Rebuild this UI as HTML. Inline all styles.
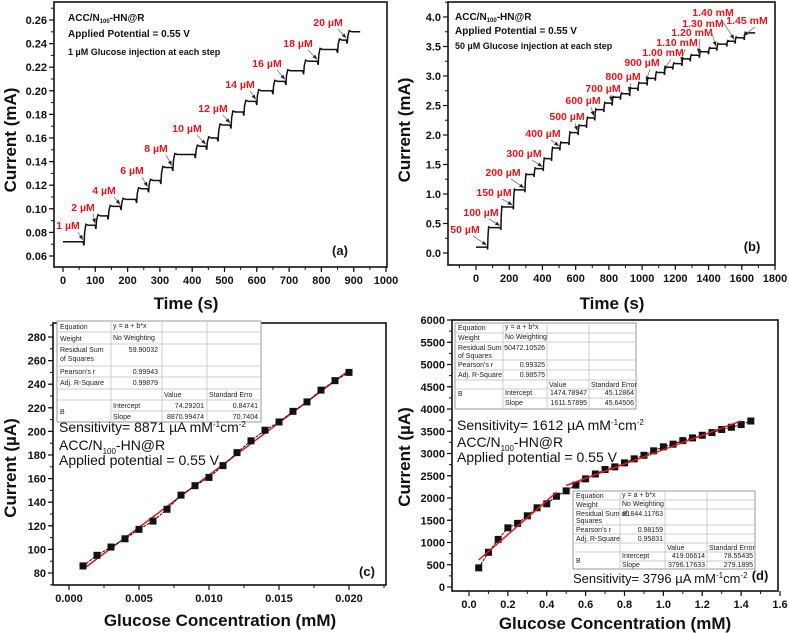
<!DOCTYPE html>
<html><head><meta charset="utf-8"><style>
html,body{margin:0;padding:0;background:#fff;}
svg{display:block;font-family:"Liberation Sans",Arial,sans-serif;}
.tk{font-size:11px;font-weight:bold;fill:#111;}
.at{font-size:17px;font-weight:bold;fill:#111;}
.lab{font-size:10.5px;font-weight:bold;fill:#e8141b;}
.tb{font-size:7px;fill:#222;}
.big{font-size:14px;fill:#111;}
.hd{font-size:10px;font-weight:bold;fill:#111;}
</style></head><body>
<svg id="fig" width="789" height="633" viewBox="0 0 789 633" xmlns="http://www.w3.org/2000/svg"></svg>
<script>
// ---------- DATA ----------
const aBase = 0.072;
const aTimes = [65,102,140,180,228,265,303,340,410,445,480,520,560,600,650,690,745,790,850,880];
const aLevels = [0.086,0.094,0.102,0.108,0.117,0.124,0.135,0.146,0.153,0.160,0.171,0.182,0.191,0.200,0.208,0.217,0.225,0.235,0.243,0.250];
const aEnd = 920;
const aXTicks = [0,100,200,300,400,500,600,700,800,900,1000];
const aYTicks = [0.06,0.08,0.10,0.12,0.14,0.16,0.18,0.20,0.22,0.24,0.26];
const aLabelText = ["1 µM","2 µM","4 µM","6 µM","8 µM","10 µM","12 µM","14 µM","16 µM","18 µM","20 µM"];
const aLabelStep = [1,2,4,6,8,10,12,14,16,18,20];
const bBase = 0.10;
const bTimes = [70,150,225,295,350,405,455,505,560,615,665,715,770,820,870,925,975,1030,1080,1135,1185,1240,1290,1345,1400,1450,1510,1560,1615];
const bLevels = [0.43,0.78,1.07,1.33,1.43,1.60,1.78,1.87,2.04,2.16,2.29,2.43,2.54,2.64,2.70,2.79,2.88,2.96,3.06,3.15,3.21,3.29,3.35,3.41,3.47,3.54,3.59,3.65,3.73];
const bEnd = 1680;
const bXTicks = [0,200,400,600,800,1000,1200,1400,1600,1800];
const bYTicks = [0.0,0.5,1.0,1.5,2.0,2.5,3.0,3.5,4.0];
const bLabelText = ["50 µM","100 µM","150 µM","200 µM","300 µM","400 µM","500 µM","600 µM","700 µM","800 µM","900 µM","1.00 mM","1.10 mM","1.20 mM","1.30 mM","1.40 mM","1.45 mM"];
const bLabelStep = [1,2,3,4,6,8,10,12,14,16,18,20,22,24,26,28,29];
const cX = [0.001,0.002,0.003,0.004,0.005,0.006,0.007,0.008,0.009,0.010,0.011,0.012,0.013,0.014,0.015,0.016,0.017,0.018,0.019,0.020];
const cY = [86,95,102,109,117,124,134,146,154,161,171,182,192,201,208,217,225,235,243,250];
const cFit = [74.29201, 8870.99474];
const cXTicks = [0.000,0.005,0.010,0.015,0.020];
const cYTicks = [80,100,120,140,160,180,200,220,240,260,280];
const dX = [0.05,0.10,0.15,0.20,0.25,0.30,0.35,0.40,0.45,0.50,0.55,0.60,0.65,0.70,0.75,0.80,0.85,0.90,0.95,1.00,1.05,1.10,1.15,1.20,1.25,1.30,1.35,1.40,1.45];
const dY = [430,780,1070,1330,1430,1600,1780,1870,2040,2160,2290,2430,2540,2640,2700,2790,2880,2960,3060,3150,3210,3290,3350,3410,3470,3540,3590,3650,3730];
const dFitLow = [419.06614, 3796.17633];
const dFitHigh = [1474.78947, 1611.57895];
const dXTicks = [0.0,0.2,0.4,0.6,0.8,1.0,1.2,1.4,1.6];
const dYTicks = [0,500,1000,1500,2000,2500,3000,3500,4000,4500,5000,5500,6000];

// ---------- HELPERS ----------
const NS="http://www.w3.org/2000/svg";
const svg=document.getElementById('fig');
function mk(tag,attrs,parent){const e=document.createElementNS(NS,tag);for(const k in attrs)e.setAttribute(k,attrs[k]);(parent||svg).appendChild(e);return e;}
function txt(s,x,y,cls,parent,anchor){const t=mk('text',{x:x,y:y,class:cls,'text-anchor':anchor||'start'},parent);t.textContent=s;return t;}
function scale(d0,d1,r0,r1){return v=>r0+(v-d0)/(d1-d0)*(r1-r0);}

function frame(name,L,T,R,B,xs,ys,xt,yt,fmtX,fmtY,xMinor,yMinor){
  const g=mk('g',{});
  
  
  mk('rect',{x:L,y:T,width:R-L,height:B-T,fill:'none',stroke:'#111','stroke-width':1.6},g);
  xt.forEach(v=>{const x=xs(v);mk('line',{x1:x,x2:x,y1:B,y2:B+5,stroke:'#111','stroke-width':1.2},g);txt(fmtX(v),x,B+17,'tk',g,'middle');});
  xMinor.forEach(v=>{const x=xs(v);if(x>L&&x<R)mk('line',{x1:x,x2:x,y1:B,y2:B+3,stroke:'#111','stroke-width':1},g);});
  yt.forEach(v=>{const y=ys(v);mk('line',{x1:L-5,x2:L,y1:y,y2:y,stroke:'#111','stroke-width':1.2},g);txt(fmtY(v),L-7,y+4,'tk',g,'end');});
  yMinor.forEach(v=>{const y=ys(v);if(y>T&&y<B)mk('line',{x1:L-3,x2:L,y1:y,y2:y,stroke:'#111','stroke-width':1},g);});
  return g;
}
function stairs(times,levels,base,end,xs,ys,dip){
  let pts=[[0,base]];let prev=base;
  for(let i=0;i<times.length;i++){
    const t=times[i],L=levels[i];
    pts.push([t-3,prev]);pts.push([t,prev-dip]);pts.push([t+2,prev+(L-prev)*0.55]);
    pts.push([t+6,L+dip*0.3]);pts.push([t+14,L]);prev=L;
  }
  pts.push([end,prev]);
  return pts.map((p,i)=>(i?'L':'M')+xs(p[0]).toFixed(1)+','+ys(p[1]).toFixed(1)).join('');
}
function arrowTo(x1,y1,x2,y2,g){
  mk('line',{x1:x1,y1:y1,x2:x2,y2:y2,stroke:'#777','stroke-width':0.8},g);
  const a=Math.atan2(y2-y1,x2-x1),s=5;
  const p=[[x2,y2],[x2-s*Math.cos(a-0.4),y2-s*Math.sin(a-0.4)],[x2-s*Math.cos(a+0.4),y2-s*Math.sin(a+0.4)]];
  mk('polygon',{points:p.map(q=>q.join(',')).join(' '),fill:'#222'},g);
}
function range(a,b,s){const r=[];for(let v=a;v<=b+1e-9;v+=s)r.push(+v.toFixed(6));return r;}

// ---------- PANEL A ----------
{
 const L=54,T=2,R=387,B=267;
 const xs=scale(0,1000,63,386), ys=scale(0.26,0.06,20,256);
 frame('panel-a',L,T,R,B,xs,ys,aXTicks,aYTicks,v=>String(v),v=>v.toFixed(2),range(-0,1000,50),range(0.05,0.27,0.01));
 const p=mk('path',{d:stairs(aTimes,aLevels,aBase,aEnd,xs,ys,0.003),fill:'none',stroke:'#111','stroke-width':1.5});
 
 
 const pos=[[68,229],[83,211],[104,194],[132,174],[156,152],[187,132],[213,112],[240,88],[267,67],[298,47],[328,26]];
 const g=mk('g',{});
 
 
 aLabelStep.forEach((s,i)=>{
   const t=aTimes[s-1],lv=s>1?aLevels[s-2]:aBase;
   txt(aLabelText[i],pos[i][0],pos[i][1],'lab',g,'middle');
   arrowTo(pos[i][0]+10,pos[i][1]+3,xs(t)-1,ys(lv)-2,g);
 });
 const h=mk('g',{});
 
 
 const t1=txt('ACC/N',68,21,'hd',h);const ts=mk('tspan',{'font-size':'6','dy':'2'},t1);ts.textContent='100';const t2=mk('tspan',{dy:'-2'},t1);t2.textContent='-HN@R';
 txt('Applied Potential = 0.55 V',68,37,'hd',h);
 txt('1 µM Glucose injection at each step',68,55,'hd',h).style.fontSize='9px';
 txt('(a)',340,255,'hd',h,'middle').style.fontSize='13px';
 const yt=txt('Current (mA)',0,0,'at',null,'middle');yt.setAttribute('transform','translate(16,140) rotate(-90)');
 
 const xt=txt('Time (s)',186,309,'at',null,'middle');
 
}
// ---------- PANEL B ----------
{
 const L=448,T=2,R=775,B=265;
 const xs=scale(0,1800,476,775), ys=scale(4,0,17,253);
 frame('panel-b',L,T,R,B,xs,ys,bXTicks,bYTicks,v=>String(v),v=>v.toFixed(1),range(-100,1800,100),range(-0.25,4.25,0.25));
 const p=mk('path',{d:stairs(bTimes,bLevels,bBase,bEnd,xs,ys,0.04),fill:'none',stroke:'#111','stroke-width':1.5});
 
 
 const pos=[[465,233],[481,216],[494,196],[503,176],[524,157],[543,137],[567,120],[583,104],[603,92],[623,80],[642,66],[663,56],[677,46],[692,36],[703,27],[713,16],[747,24]];
 const g=mk('g',{});
 
 
 bLabelStep.forEach((s,i)=>{
   const t=bTimes[s-1],lv=s>1?bLevels[s-2]:bBase;
   txt(bLabelText[i],pos[i][0],pos[i][1],'lab',g,'middle');
   arrowTo(pos[i][0]+8,pos[i][1]+3,xs(t)-1,ys(lv)-2,g);
 });
 const h=mk('g',{});
 
 
 const t1=txt('ACC/N',455,20,'hd',h);const ts=mk('tspan',{'font-size':'6','dy':'2'},t1);ts.textContent='100';const t2=mk('tspan',{dy:'-2'},t1);t2.textContent='-HN@R';
 txt('Applied Potential = 0.55 V',455,34,'hd',h);
 txt('50 µM Glucose injection at each step',455,49,'hd',h).style.fontSize='9px';
 txt('(b)',752,251,'hd',h,'middle').style.fontSize='13px';
 const yt=txt('Current (mA)',0,0,'at',null,'middle');yt.setAttribute('transform','translate(410,130) rotate(-90)');
 
 const xt=txt('Time (s)',612,309,'at',null,'middle');
 
}
function table(name,cols,rows,cells){
 const g=mk('g',{});
 
 
 mk('rect',{x:cols[0],y:rows[0],width:cols[4]-cols[0],height:rows[rows.length-1]-rows[0],fill:'#fff',stroke:'#999','stroke-width':1},g);
 cols.slice(1,4).forEach(x=>mk('line',{x1:x,x2:x,y1:rows[0],y2:rows[rows.length-1],stroke:'#ccc'},g));
 rows.slice(1,-1).forEach((y,i)=>mk('line',{x1:(i==6?cols[1]:cols[0]),x2:cols[4],y1:y,y2:y,stroke:'#ccc'},g));
 cells.forEach(c=>{txt(c[0],c[1],c[2],'tb',g,c[3]||'start');});
 return g;
}
function sens(g,label,x,y,size){
 const s=txt(label,x,y,'big',g);s.style.fontSize=size+'px';
 let sp=mk('tspan',{'font-size':'8',dy:'-5'},s);sp.textContent='-1';
 sp=mk('tspan',{dy:'5'},s);sp.textContent='cm';
 sp=mk('tspan',{'font-size':'8',dy:'-5'},s);sp.textContent='-2';
}
// ---------- PANEL C ----------
{
 const L=53,T=323,R=386,B=585;
 const xs=scale(0,0.005,69,139), ys=scale(280,80,337,573);
 frame('panel-c',L,T,R,B,xs,ys,cXTicks,cYTicks,v=>v.toFixed(3),v=>String(v),range(-0.0025,0.0225,0.0025),range(70,290,10));
 const c=[57,111,162,207,261], r=[321,332,344,366,377,389,400,411,422];
 table('panel-c-fit-table',c,r,[
  ['Equation',60,329],['y = a + b*x',113,328],['Weight',60,341],['No Weighting',113,340],
  ['Residual Sum',60,352],['of Squares',60,361],['59.90032',158,352,'end'],
  ["Pearson's r",60,374],['0.99943',158,374,'end'],['Adj. R-Square',60,385],['0.99879',158,385,'end'],
  ['Value',164,397],['Standard Erro',209,397],['B',60,414],['Intercept',113,408],['74.29201',204,408,'end'],['0.84741',258,408,'end'],
  ['Slope',113,419],['8870.99474',204,419,'end'],['70.7404',258,419,'end']]);
 const ln=mk('line',{x1:xs(cX[0]),y1:ys(cFit[0]+cFit[1]*cX[0]),x2:xs(cX[cX.length-1]),y2:ys(cFit[0]+cFit[1]*cX[cX.length-1]),stroke:'#e8141b','stroke-width':1.5});
 
 const pl=mk('polyline',{points:cX.map((x,i)=>xs(x)+','+ys(cY[i])).join(' '),fill:'none',stroke:'#111','stroke-width':1,'stroke-dasharray':'3,1'});
 
 cX.forEach((x,i)=>{const m=mk('rect',{x:xs(x)-3.5,y:ys(cY[i])-3.5,width:7,height:7,fill:'#111'});
   });
 const g=mk('g',{});
 sens(g,'Sensitivity= 8871 µA mM',59,432,14);
 const a=txt('ACC/N',59,450,'big',g);let sp=mk('tspan',{'font-size':'8',dy:'4'},a);sp.textContent='100';sp=mk('tspan',{dy:'-4'},a);sp.textContent='-HN@R';
 txt('Applied potential = 0.55 V',59,465,'big',g);
 txt('(c)',367,576,'hd',g,'middle').style.fontSize='13px';
 const yt=txt('Current (µA)',0,0,'at',null,'middle');yt.setAttribute('transform','translate(16,468) rotate(-90)');
 
 const xt=txt('Glucose Concentration (mM)',220,626,'at',null,'middle');
 
}
// ---------- PANEL D ----------
{
 const L=452,T=320,R=778,B=591;
 const xs=scale(0,1.6,469,780), ys=scale(6000,0,320,587);
 frame('panel-d',L,T,R,B,xs,ys,dXTicks,dYTicks,v=>v.toFixed(1),v=>String(v),range(-0.1,1.6,0.1),range(0,6000,250));
 table('panel-d-fit-table-high',[455,503,547,589,636],[323,333,342,360,370,380,389,398,409],[
  ['Equation',458,330],['y = a + b*x',505,329],['Weight',458,340],['No Weighting',505,339],
  ['Residual Sum',458,350],['of Squares',458,358],['50472.10526',545,350,'end'],
  ["Pearson's r",458,367],['0.99325',545,367,'end'],['Adj. R-Square',458,377],['0.98575',545,377,'end'],
  ['Value',549,387],['Standard Error',591,387],['B',458,396],['Intercept',505,395],['1474.78947',587,395,'end'],['45.12864',634,395,'end'],
  ['Slope',505,405],['1611.57895',587,405,'end'],['45.64506',634,405,'end']]);
 const pl=mk('polyline',{points:dX.map((x,i)=>xs(x)+','+ys(dY[i])).join(' '),fill:'none',stroke:'#111','stroke-width':1,'stroke-dasharray':'3,1'});
 
 dX.forEach((x,i)=>{const m=mk('rect',{x:xs(x)-3.5,y:ys(dY[i])-3.5,width:7,height:7,fill:'#111'});
   });
 const l1=mk('line',{x1:xs(0.05),y1:ys(dFitLow[0]+dFitLow[1]*0.05),x2:xs(0.45),y2:ys(dFitLow[0]+dFitLow[1]*0.45),stroke:'#e8141b','stroke-width':1.5});
 
 const l2=mk('line',{x1:xs(0.5),y1:ys(dFitHigh[0]+dFitHigh[1]*0.5),x2:xs(1.4),y2:ys(dFitHigh[0]+dFitHigh[1]*1.4),stroke:'#e8141b','stroke-width':1.5});
 
 table('panel-d-fit-table-low',[573,620,665,707,755],[491,500,509,525,534,543,552,561,569],[
  ['Equation',576,498],['y = a + b*x',622,497],['Weight',576,507],['No Weighting',622,506],
  ['Residual Sum of',576,516],['Squares',576,523],['81844.11763',663,516,'end'],
  ["Pearson's r",576,532],['0.98159',663,532,'end'],['Adj. R-Square',576,541],['0.95831',663,541,'end'],
  ['Value',667,550],['Standard Error',709,550],['B',576,563],['Intercept',622,558],['419.06614',705,558,'end'],['78.55435',753,558,'end'],
  ['Slope',622,567],['3796.17633',705,567,'end'],['279.1895',753,567,'end']]);
 const g=mk('g',{});
 sens(g,'Sensitivity= 1612 µA mM',457,430,14);
 const a=txt('ACC/N',457,447,'big',g);let sp=mk('tspan',{'font-size':'8',dy:'4'},a);sp.textContent='100';sp=mk('tspan',{dy:'-4'},a);sp.textContent='-HN@R';
 txt('Applied potential = 0.55 V',457,462,'big',g);
 sens(g,'Sensitivity= 3796 µA mM',573,583,13);
 txt('(d)',760,580,'hd',g,'middle').style.fontSize='13px';
 const yt=txt('Current (µA)',0,0,'at',null,'middle');yt.setAttribute('transform','translate(410,457) rotate(-90)');
 
 const xt=txt('Glucose Concentration (mM)',615,629,'at',null,'middle');
 
}
</script>
</body></html>
